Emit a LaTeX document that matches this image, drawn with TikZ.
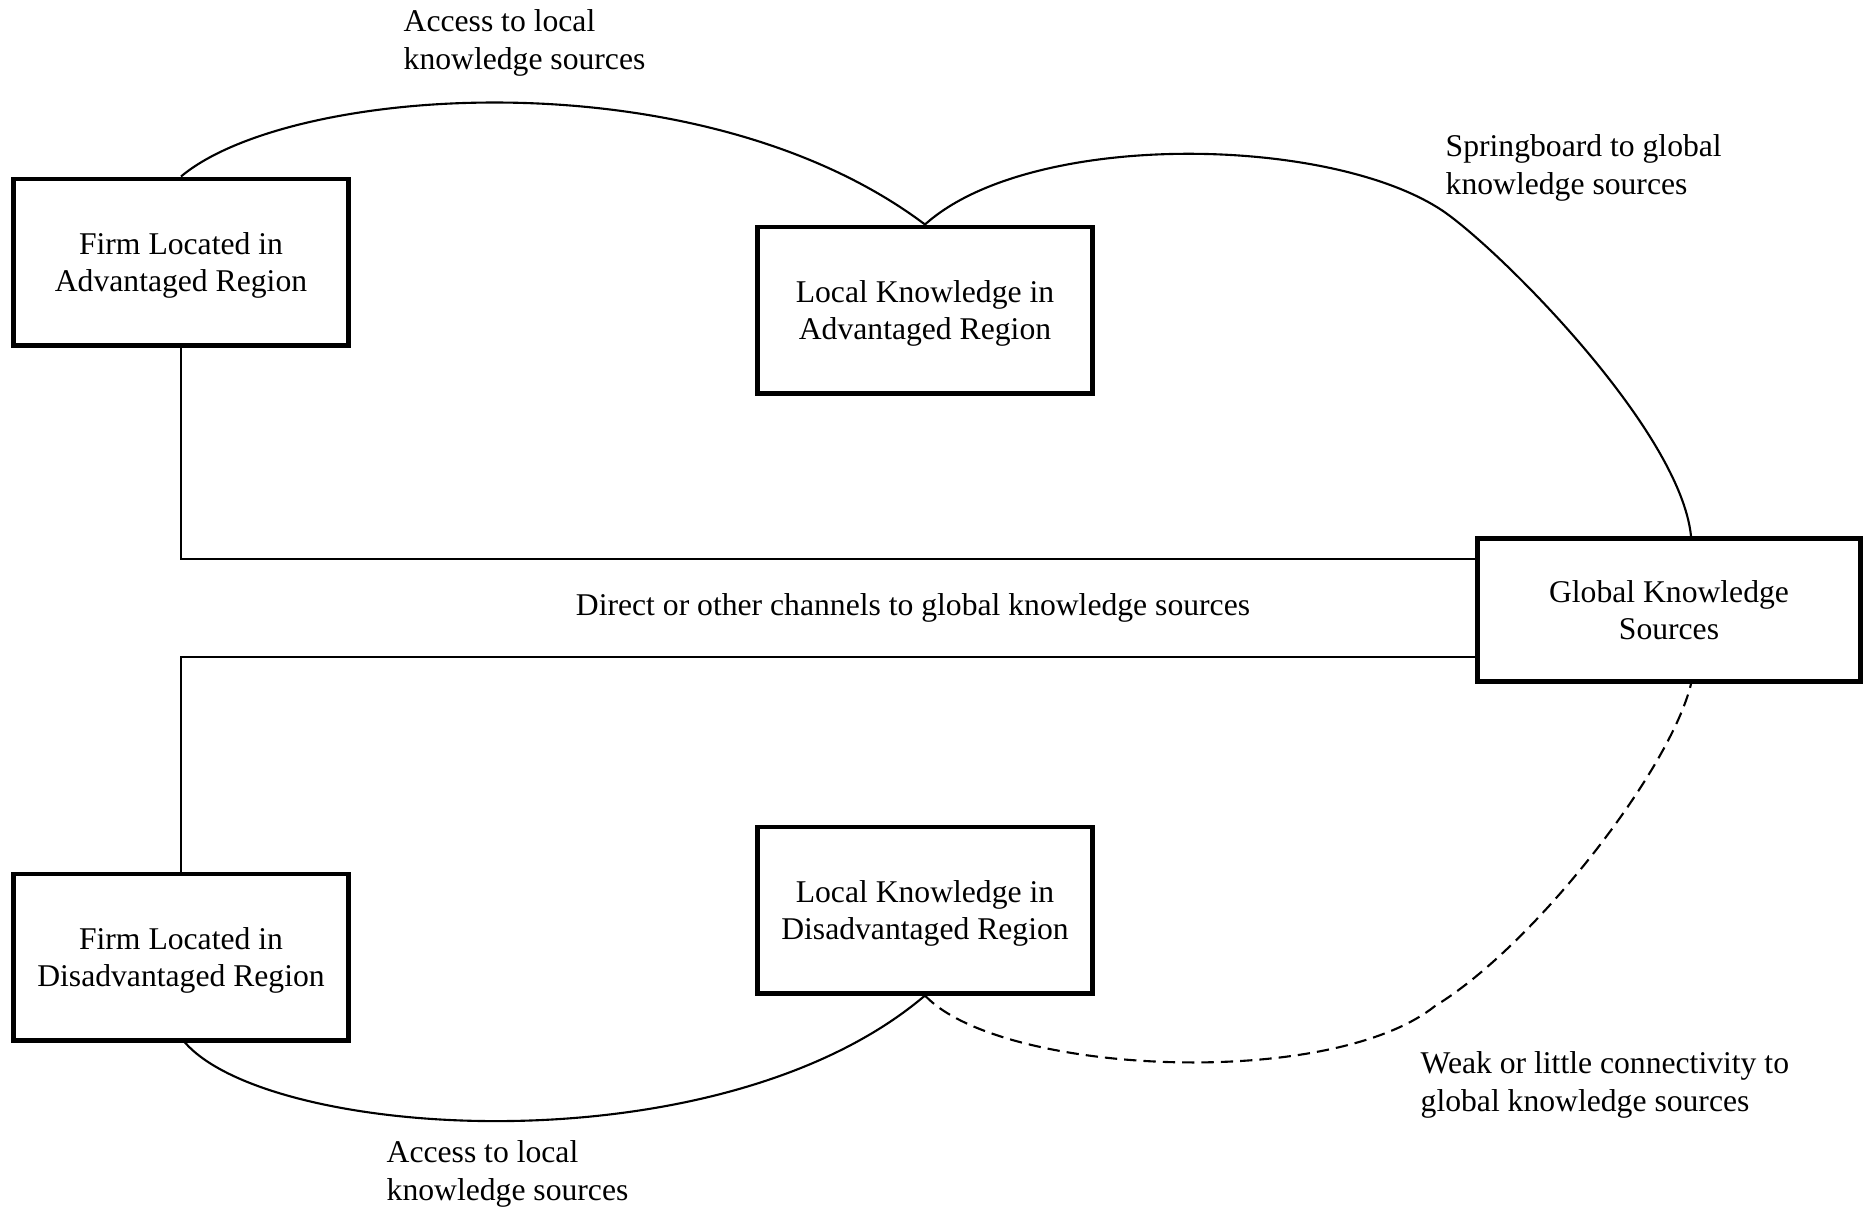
\documentclass[tikz,border=0pt]{standalone}
\usepackage{fontspec}
\setmainfont{Liberation Serif}
\begin{document}
\begin{tikzpicture}[x=0.01cm, y=-0.01cm,
  every node/.style={font=\fontsize{9}{10.8}\selectfont},
  box/.style={draw, line width=1.4pt, minimum width=3.34cm, minimum height=1.66cm, align=center, inner sep=2pt, text depth=0pt},
  gbox/.style={box, minimum width=3.83cm, minimum height=1.43cm},
  conn/.style={line width=0.6pt},
  weak/.style={conn, dash pattern=on 3.5pt off 2pt},
  lbl/.style={align=left, inner sep=0pt, anchor=base west}]
\useasboundingbox (0,0) rectangle (1865,1208);

\node[box] (fa) at (181,262) {Firm Located in\\Advantaged Region};
\node[box] (la) at (925,310) {Local Knowledge in\\Advantaged Region};
\node[gbox] (gk) at (1669,610) {Global Knowledge\\Sources};
\node[box] (fd) at (181,957) {Firm Located in\\Disadvantaged Region};
\node[box] (ld) at (925,910) {Local Knowledge in\\Disadvantaged Region};

\coordinate (h1) at (0,559);
\coordinate (h2) at (0,657);
\coordinate (sb) at (1443,211);
\coordinate (wk) at (1435,1006);

% access advantaged
\draw[conn] (fa.north) .. controls (290,85) and (700,55) .. (la.north);
% springboard
\draw[conn] (la.north) .. controls (1030,130) and (1330,135) .. (sb)
  .. controls (1500,250) and (1680,430) .. ([xshift=0.22cm]gk.north);
% direct channels
\draw[conn] (fa.south) |- (gk.west |- h1);
\draw[conn] (fd.north) |- (gk.west |- h2);
% access disadvantaged
\draw[conn] ([xshift=0.04cm]fd.south) .. controls (270,1140) and (720,1170) .. (ld.south);
% weak
\draw[weak] (ld.south) .. controls (1000,1075) and (1330,1090) .. (wk)
  .. controls (1535,945) and (1670,770) .. ([xshift=0.22cm]gk.south);

\node[lbl] (l1) at (403,69) {Access to local\\knowledge sources};
\node[lbl] (l2) at (1445,194) {Springboard to global\\knowledge sources};
\node[inner sep=0pt, anchor=base] (l3) at (913,615) {Direct or other channels to global knowledge sources};
\node[lbl] (l4) at (386,1200) {Access to local\\knowledge sources};
\node[lbl] (l5) at (1420,1111) {Weak or little connectivity to\\global knowledge sources};
\end{tikzpicture}
\end{document}
